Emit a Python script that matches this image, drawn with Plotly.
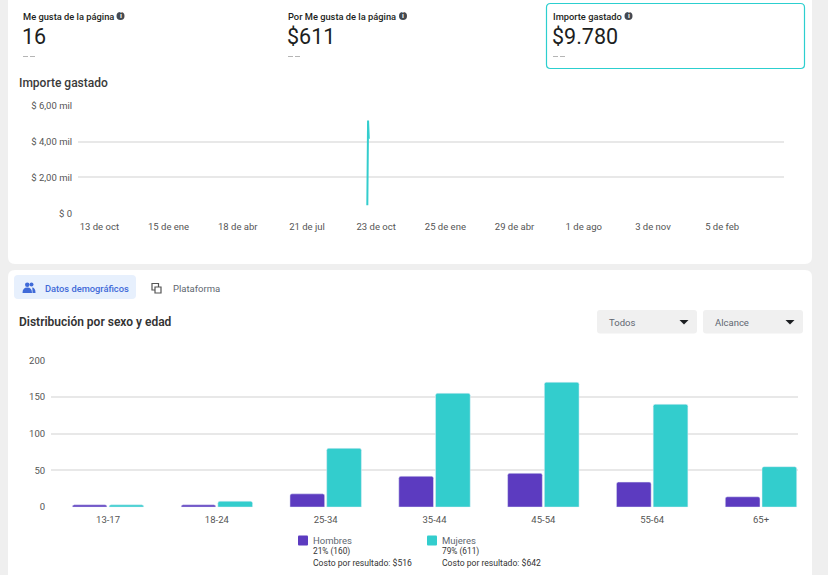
import plotly.graph_objects as go

W, H = 828, 575

# ---------------- data ----------------
kpi_titles = ["Me gusta de la página", "Por Me gusta de la página", "Importe gastado"]
kpi_values = ["16", "$611", "$9.780"]

spend_dates = ["2020-10-11", "2020-10-12", "2020-10-13"]
spend_values = [450, 5180, 4150]

x_tick_dates = ["2019-10-13", "2020-01-15", "2020-04-18", "2020-07-21", "2020-10-23",
                "2021-01-25", "2021-04-29", "2021-08-01", "2021-11-03", "2022-02-05"]
x_tick_labels = ["13 de oct", "15 de ene", "18 de abr", "21 de jul", "23 de oct",
                 "25 de ene", "29 de abr", "1 de ago", "3 de nov", "5 de feb"]
y_tick_vals = [0, 2000, 4000, 6000]
y_tick_labels = ["$ 0", "$ 2,00 mil", "$ 4,00 mil", "$ 6,00 mil"]

age_groups = ["13-17", "18-24", "25-34", "35-44", "45-54", "55-64", "65+"]
hombres = [3, 3, 18, 42, 46, 34, 14]
mujeres = [3, 8, 80, 155, 170, 140, 55]
bar_y_ticks = [0, 50, 100, 150, 200]

legend_names = ["Hombres", "Mujeres"]
legend_pct = ["21% (160)", "79% (611)"]
legend_cost = ["Costo por resultado: $516", "Costo por resultado: $642"]

# ---------------- style ----------------
TEAL = "#33cdcd"
PURPLE = "#5c3bc0"
BG = "#efefef"
FONT = "Roboto"
DARK = "#1c1e21"
GREY = "#606770"
TX = -2  # text x nudge


def px(x):
    return x / W


def py(y):
    return 1 - (y - 5) / 565


def rrect(x0, y0, x1, y1, r):
    return (f"M {px(x0 + r)},{py(y0)} L {px(x1 - r)},{py(y0)} "
            f"Q {px(x1)},{py(y0)} {px(x1)},{py(y0 + r)} L {px(x1)},{py(y1 - r)} "
            f"Q {px(x1)},{py(y1)} {px(x1 - r)},{py(y1)} L {px(x0 + r)},{py(y1)} "
            f"Q {px(x0)},{py(y1)} {px(x0)},{py(y1 - r)} L {px(x0)},{py(y0 + r)} "
            f"Q {px(x0)},{py(y0)} {px(x0 + r)},{py(y0)} Z")


def label(x, y, text, size, color, weight=400, anchor="left"):
    return dict(x=px(x + (TX if anchor == "left" else 0)), y=py(y), xref="paper", yref="paper",
                xanchor=anchor, yanchor="middle", showarrow=False, text=text,
                font=dict(family=FONT, size=size, color=color, weight=weight))


fig = go.Figure()

fig.add_trace(go.Scatter(
    x=spend_dates, y=spend_values, mode="lines",
    line=dict(color=TEAL, width=2), xaxis="x", yaxis="y",
    showlegend=False, hoverinfo="skip"))

fig.add_trace(go.Bar(
    x=age_groups, y=hombres, name=legend_names[0], marker_color=PURPLE,
    xaxis="x2", yaxis="y2", showlegend=False))
fig.add_trace(go.Bar(
    x=age_groups, y=mujeres, name=legend_names[1], marker_color=TEAL,
    xaxis="x2", yaxis="y2", showlegend=False))

shapes = []
annotations = []

# cards
shapes.append(dict(type="path", path=rrect(8, -20, 812, 264, 7), xref="paper", yref="paper",
                   fillcolor="white", line=dict(width=0), layer="below"))
shapes.append(dict(type="path", path=rrect(8, 270, 812, 600, 7), xref="paper", yref="paper",
                   fillcolor="white", line=dict(width=0), layer="below"))
# selected KPI box
shapes.append(dict(type="path", path=rrect(546.5, 3.5, 804.5, 68.5, 4), xref="paper", yref="paper",
                   fillcolor="white", line=dict(color="#2ccfcf", width=1.2), layer="below"))

# KPI texts
kpi_x = [23, 288, 553]
for i in range(3):
    x0 = kpi_x[i]
    annotations.append(label(x0, 16.5, kpi_titles[i], 9.3, DARK, 500))
    annotations.append(label(x0 - 1, 36, kpi_values[i], 21.5, DARK))
    # "--" placeholder drawn as two short grey dashes
    for dx in (0, 7):
        shapes.append(dict(type="line", xref="paper", yref="paper",
                           x0=px(x0 + dx), x1=px(x0 + dx + 5), y0=py(56.5), y1=py(56.5),
                           line=dict(color="#b5b5b5", width=1)))
info_x = [120.5, 403, 628.5]
for cx in info_x:
    shapes.append(dict(type="circle", xref="paper", yref="paper",
                       x0=px(cx - 4), x1=px(cx + 4), y0=py(20), y1=py(12),
                       fillcolor="#444950", line=dict(width=0)))
    annotations.append(label(cx, 16, "<b>i</b>", 7, "white", anchor="center"))

annotations.append(label(19, 83, "Importe gastado", 12, "#3a3a3a", 500))

# tabs
shapes.append(dict(type="path", path=rrect(14, 275, 136, 299, 4), xref="paper", yref="paper",
                   fillcolor="#e7f0fd", line=dict(width=0), layer="below"))
BLUE = "#3f6ad8"
# people icon
shapes.append(dict(type="circle", xref="paper", yref="paper", x0=px(25), x1=px(29.5),
                   y0=py(287), y1=py(282.5), fillcolor=BLUE, line=dict(width=0)))
shapes.append(dict(type="circle", xref="paper", yref="paper", x0=px(29.5), x1=px(33.5),
                   y0=py(286.5), y1=py(282.5), fillcolor=BLUE, line=dict(width=0)))
shapes.append(dict(type="path", xref="paper", yref="paper",
                   path=f"M {px(22.5)},{py(293)} Q {px(22.5)},{py(287.5)} {px(27.3)},{py(287.5)} "
                        f"Q {px(32)},{py(287.5)} {px(32)},{py(293)} Z",
                   fillcolor=BLUE, line=dict(width=0)))
shapes.append(dict(type="path", xref="paper", yref="paper",
                   path=f"M {px(32.5)},{py(293)} Q {px(32.5)},{py(287.5)} {px(32)},{py(287.5)} "
                        f"Q {px(35.5)},{py(287.5)} {px(35.5)},{py(293)} Z",
                   fillcolor=BLUE, line=dict(width=0)))
annotations.append(label(45, 288, "Datos demográficos", 9.3, BLUE, 500))
# platform icon
shapes.append(dict(type="rect", xref="paper", yref="paper", x0=px(152), x1=px(158.5),
                   y0=py(290), y1=py(283.5), line=dict(color="#555", width=1.2), fillcolor="rgba(0,0,0,0)"))
shapes.append(dict(type="rect", xref="paper", yref="paper", x0=px(155), x1=px(161),
                   y0=py(293), y1=py(287), line=dict(color="#555", width=1.2), fillcolor="white"))
annotations.append(label(173, 288, "Plataforma", 9.5, GREY))

annotations.append(label(19, 322, "Distribución por sexo y edad", 12, "#333333", 600))

# dropdowns
for (x0, x1, txt) in [(597, 697, "Todos"), (703, 803, "Alcance")]:
    shapes.append(dict(type="path", path=rrect(x0, 310, x1, 333.5, 3), xref="paper", yref="paper",
                       fillcolor="#f0f0f0", line=dict(width=0), layer="below"))
    annotations.append(label(x0 + 12, 322, txt, 9.5, GREY))
    ax = x1 - 13
    shapes.append(dict(type="path", xref="paper", yref="paper",
                       path=f"M {px(ax - 4.5)},{py(320)} L {px(ax + 4.5)},{py(320)} L {px(ax)},{py(324.5)} Z",
                       fillcolor="#1c1e21", line=dict(width=0)))

# legend
leg_x = [298, 427]
leg_col = [PURPLE, TEAL]
for i in range(2):
    x0 = leg_x[i]
    shapes.append(dict(type="path", path=rrect(x0, 535.5, x0 + 10, 545.5, 1), xref="paper", yref="paper",
                       fillcolor=leg_col[i], line=dict(width=0)))
    annotations.append(label(x0 + 15, 540.5, legend_names[i], 9.5, GREY))
    annotations.append(label(x0 + 15, 551.5, legend_pct[i], 8.3, "#333"))
    annotations.append(label(x0 + 15, 563, legend_cost[i], 8.6, "#333"))

GRID = "#e8e8e8"
TICKF = dict(family=FONT, size=9.5, color="#555")

fig.update_layout(
    width=W, height=H,
    margin=dict(l=0, r=0, t=0, b=0),
    paper_bgcolor=BG, plot_bgcolor="rgba(0,0,0,0)",
    font=dict(family=FONT),
    shapes=shapes, annotations=annotations,
    bargap=0.325, bargroupgap=0.055, barmode="group", barcornerradius=2,
    xaxis=dict(domain=[px(78), px(784)], type="date",
               range=["2019-09-14", "2022-04-30"],
               tickvals=x_tick_dates, ticktext=x_tick_labels,
               showgrid=False, zeroline=False, showline=False,
               ticks="outside", ticklen=4, tickcolor="rgba(0,0,0,0)",
               tickfont=TICKF, anchor="y", fixedrange=True),
    yaxis=dict(domain=[py(213.5), py(105.5)], range=[-15, 6015],
               tickvals=y_tick_vals, ticktext=y_tick_labels,
               showgrid=True, gridcolor=GRID, gridwidth=1.5, zeroline=False,
               ticks="outside", ticklen=3, tickcolor="rgba(0,0,0,0)",
               tickfont=TICKF, anchor="x"),
    xaxis2=dict(domain=[px(51), px(798)], type="category",
                range=[-0.524, 6.34], showgrid=False, zeroline=False, showline=False,
                ticks="outside", ticklen=3, tickcolor="rgba(0,0,0,0)",
                tickfont=TICKF, anchor="y2"),
    yaxis2=dict(domain=[py(507.5), py(359.8)], range=[-0.6, 200.6],
                tickvals=bar_y_ticks, showgrid=True, gridcolor=GRID, gridwidth=1.5,
                zeroline=False, ticks="outside", ticklen=3, tickcolor="rgba(0,0,0,0)",
                tickfont=TICKF, anchor="x2"),
)

fig.write_html("out.html", config={"displayModeBar": False},
               post_script="document.body.style.margin='0';document.body.style.overflow='hidden';")
